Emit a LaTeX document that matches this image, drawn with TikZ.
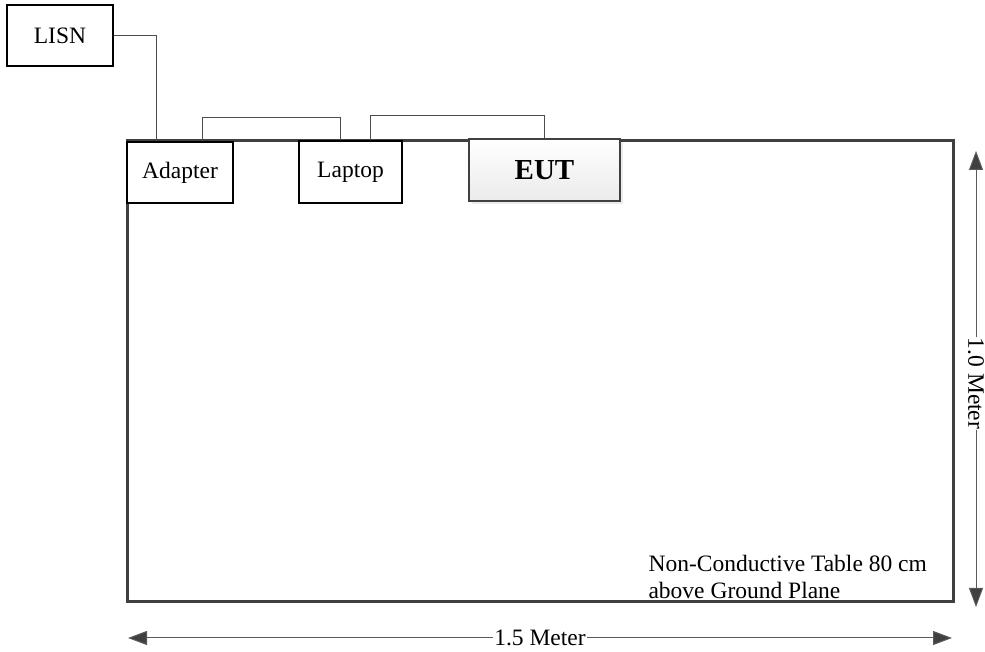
\documentclass[tikz,border=0pt]{standalone}
\usepackage{fontspec}
\setmainfont{Liberation Serif}
\usetikzlibrary{arrows.meta,shadows}
\definecolor{tablegray}{HTML}{404040}
\begin{document}
\begin{tikzpicture}[x=1pt,y=1pt,
    font=\fontsize{23.5}{27}\selectfont,
    unit/.style={draw=black,line width=1.5pt,fill=white,inner sep=0pt},
    wire/.style={draw=black!70,line width=1pt},
    dimline/.style={draw=black!65,line width=1pt,
      {Triangle[length=19pt,width=14pt,fill=tablegray]}-{Triangle[length=19pt,width=14pt,fill=tablegray]}},
    dimlabel/.style={fill=white,inner sep=1pt}]
  \useasboundingbox (0,0) rectangle (985,652);
  % table top
  \draw[draw=tablegray,line width=3pt] (127,50) rectangle (953,511);
  % units
  \node[unit,minimum width=106pt,minimum height=61pt] (lisn) at (60,616.5) {LISN};
  \node[unit,minimum width=106pt,minimum height=61pt] (adapter) at (180,479.5) {Adapter};
  \node[unit,minimum width=103pt,minimum height=62pt] (laptop) at (350.5,480) {Laptop};
  \node[draw=tablegray,line width=2.5pt,inner sep=0pt,
        top color=white,bottom color=black!8,
        drop shadow={shadow xshift=3pt,shadow yshift=-3pt,fill=black!15},
        minimum width=151pt,minimum height=62pt,
        font=\fontsize{29}{32}\selectfont\bfseries] (eut) at (544.5,482) {EUT};
  % cables
  \draw[wire] (lisn.east) -| ([xshift=30pt]adapter.north west);
  \draw[wire] ([xshift=22pt]adapter.north) |- ++(0,24) -| ([xshift=-10pt]laptop.north);
  \draw[wire] ([xshift=20pt]laptop.north) |- ++(0,25) -| (eut.north);
  % dimensions
  \coordinate (v1) at (976,501);
  \coordinate (v2) at (976,45);
  \coordinate (h1) at (128,14);
  \coordinate (h2) at (952,14);
  \draw[dimline] (v1) -- node[dimlabel,rotate=-90,pos=0.51] {1.0 Meter} (v2);
  \draw[dimline] (h1) -- node[dimlabel,pos=0.5] {1.5 Meter} (h2);
  \node[anchor=base west,align=left] (note) at (645,53)
    {Non-Conductive Table 80 cm\\above Ground Plane};
\end{tikzpicture}
\end{document}
